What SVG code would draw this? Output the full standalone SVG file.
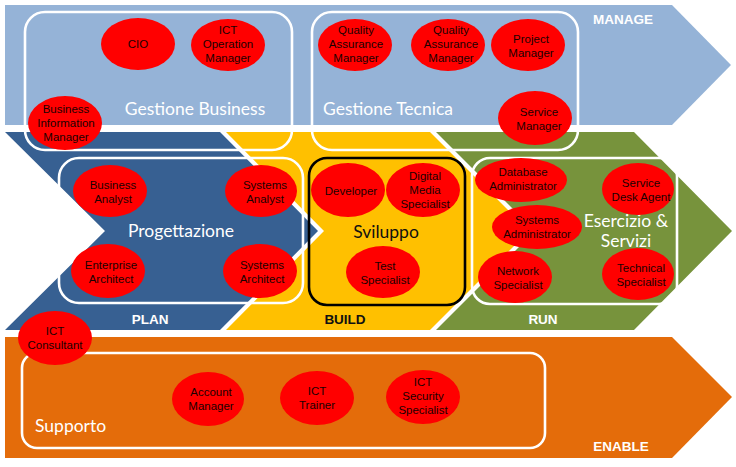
<svg xmlns="http://www.w3.org/2000/svg" width="736" height="467" viewBox="0 0 736 467">
<style>
.role{fill:#ff0000}
.rt{font-family:"Liberation Sans",Arial,sans-serif;font-size:11.5px;fill:#1a0000;text-anchor:middle}
.box{fill:none;stroke:#ffffff;stroke-width:2.6}
.area{font-family:Lato,"Open Sans",sans-serif;font-size:17.5px;fill:#ffffff;text-anchor:middle}
.phase{font-family:"Liberation Sans",Arial,sans-serif;font-size:13.5px;font-weight:bold;fill:#ffffff;text-anchor:middle}
</style>
<rect width="736" height="467" fill="#ffffff"/>
<!-- bands -->
<g id="manage">
<polygon points="5,5 672,5 731,65 672,125 5,125" fill="#95b3d7"/>
<text class="phase" x="623" y="24">MANAGE</text>
</g>
<g id="plan">
<polygon points="5,132 220,132 318,231 220,330 5,330 105,231" fill="#376092"/>
<text class="phase" x="150" y="324">PLAN</text>
</g>
<g id="build">
<polygon points="226,132 430,132 529,231 430,330 226,330 324,231" fill="#ffc000"/>
<text class="phase" x="345" y="324" style="fill:#111111">BUILD</text>
</g>
<g id="run">
<polygon points="436,132 634,132 732,231 634,330 436,330 535,231" fill="#77933c"/>
<text class="phase" x="543" y="324">RUN</text>
</g>
<g id="enable">
<polygon points="5,337 672,337 732,397 672,458 5,458" fill="#e46c0a"/>
<text class="phase" x="621" y="451">ENABLE</text>
</g>
<!-- area boxes -->
<g id="gestione-business">
<rect class="box" x="25" y="12" width="267" height="138" rx="20"/>
<text class="area" x="195" y="115">Gestione Business</text>
</g>
<g id="gestione-tecnica">
<rect class="box" x="312" y="12" width="266" height="138" rx="20"/>
<text class="area" x="388" y="115">Gestione Tecnica</text>
</g>
<g id="progettazione">
<rect class="box" x="59" y="158" width="244" height="145" rx="20"/>
<text class="area" x="181" y="237">Progettazione</text>
</g>
<g id="sviluppo">
<rect x="309" y="158" width="156" height="147" rx="18" fill="none" stroke="#000000" stroke-width="2.6"/>
<text class="area" x="386" y="238" style="fill:#111111">Sviluppo</text>
</g>
<g id="esercizio">
<rect class="box" x="472" y="158" width="205" height="146" rx="18"/>
<text class="area" x="626" y="227">Esercizio &amp;</text>
<text class="area" x="626" y="247">Servizi</text>
</g>
<g id="supporto">
<rect class="box" x="22" y="353" width="523" height="95" rx="15"/>
<text class="area" x="35" y="432" style="text-anchor:start">Supporto</text>
</g>
<!-- roles -->
<g id="cio"><ellipse class="role" cx="138" cy="44" rx="37" ry="26"/><text class="rt" x="138" y="48">CIO</text></g>
<g id="ict-operation-manager"><ellipse class="role" cx="228" cy="45" rx="37" ry="26"/><text class="rt" x="228" y="34">ICT</text><text class="rt" x="228" y="48">Operation</text><text class="rt" x="228" y="62">Manager</text></g>
<g id="business-information-manager"><ellipse class="role" cx="65" cy="123" rx="37" ry="27"/><text class="rt" x="66" y="113">Business</text><text class="rt" x="66" y="127">Information</text><text class="rt" x="66" y="141">Manager</text></g>
<g id="qa-manager-1"><ellipse class="role" cx="355" cy="45" rx="37" ry="26"/><text class="rt" x="356" y="34">Quality</text><text class="rt" x="356" y="48">Assurance</text><text class="rt" x="356" y="62">Manager</text></g>
<g id="qa-manager-2"><ellipse class="role" cx="448" cy="45" rx="37" ry="26"/><text class="rt" x="451" y="34">Quality</text><text class="rt" x="451" y="48">Assurance</text><text class="rt" x="451" y="62">Manager</text></g>
<g id="project-manager"><ellipse class="role" cx="528" cy="45" rx="37" ry="26"/><text class="rt" x="531" y="43">Project</text><text class="rt" x="531" y="57">Manager</text></g>
<g id="service-manager"><ellipse class="role" cx="535" cy="118" rx="37" ry="27"/><text class="rt" x="539" y="116">Service</text><text class="rt" x="539" y="130">Manager</text></g>
<g id="business-analyst"><ellipse class="role" cx="110" cy="191" rx="37" ry="26"/><text class="rt" x="113" y="189">Business</text><text class="rt" x="113" y="203">Analyst</text></g>
<g id="systems-analyst"><ellipse class="role" cx="261" cy="191" rx="36" ry="26"/><text class="rt" x="265" y="189">Systems</text><text class="rt" x="265" y="203">Analyst</text></g>
<g id="enterprise-architect"><ellipse class="role" cx="108" cy="271" rx="37" ry="27"/><text class="rt" x="111" y="269">Enterprise</text><text class="rt" x="111" y="283">Architect</text></g>
<g id="systems-architect"><ellipse class="role" cx="260" cy="271" rx="37" ry="27"/><text class="rt" x="262" y="269">Systems</text><text class="rt" x="262" y="283">Architect</text></g>
<g id="developer"><ellipse class="role" cx="348" cy="190" rx="37" ry="27"/><text class="rt" x="351" y="195">Developer</text></g>
<g id="digital-media-specialist"><ellipse class="role" cx="423" cy="190" rx="37" ry="27"/><text class="rt" x="425" y="180">Digital</text><text class="rt" x="425" y="194">Media</text><text class="rt" x="425" y="208">Specialist</text></g>
<g id="test-specialist"><ellipse class="role" cx="383" cy="272" rx="37" ry="26"/><text class="rt" x="385" y="270">Test</text><text class="rt" x="385" y="284">Specialist</text></g>
<g id="database-administrator"><ellipse class="role" cx="521" cy="180" rx="46" ry="22"/><text class="rt" x="523" y="176">Database</text><text class="rt" x="523" y="190">Administrator</text></g>
<g id="systems-administrator"><ellipse class="role" cx="537" cy="227" rx="45" ry="22"/><text class="rt" x="537" y="224">Systems</text><text class="rt" x="537" y="238">Administrator</text></g>
<g id="network-specialist"><ellipse class="role" cx="515" cy="277" rx="37" ry="26"/><text class="rt" x="518" y="275">Network</text><text class="rt" x="518" y="289">Specialist</text></g>
<g id="service-desk-agent"><ellipse class="role" cx="638" cy="189" rx="36" ry="26"/><text class="rt" x="641" y="187">Service</text><text class="rt" x="641" y="201">Desk Agent</text></g>
<g id="technical-specialist"><ellipse class="role" cx="638" cy="274" rx="36" ry="26"/><text class="rt" x="641" y="272">Technical</text><text class="rt" x="641" y="286">Specialist</text></g>
<g id="ict-consultant"><ellipse class="role" cx="55" cy="338" rx="37" ry="27"/><text class="rt" x="55" y="335">ICT</text><text class="rt" x="55" y="349">Consultant</text></g>
<g id="account-manager"><ellipse class="role" cx="208" cy="399" rx="36" ry="27"/><text class="rt" x="211" y="396">Account</text><text class="rt" x="211" y="410">Manager</text></g>
<g id="ict-trainer"><ellipse class="role" cx="317" cy="398" rx="37" ry="27"/><text class="rt" x="317" y="395">ICT</text><text class="rt" x="317" y="409">Trainer</text></g>
<g id="ict-security-specialist"><ellipse class="role" cx="423" cy="397" rx="37" ry="27"/><text class="rt" x="423" y="386">ICT</text><text class="rt" x="423" y="400">Security</text><text class="rt" x="423" y="414">Specialist</text></g>
</svg>
